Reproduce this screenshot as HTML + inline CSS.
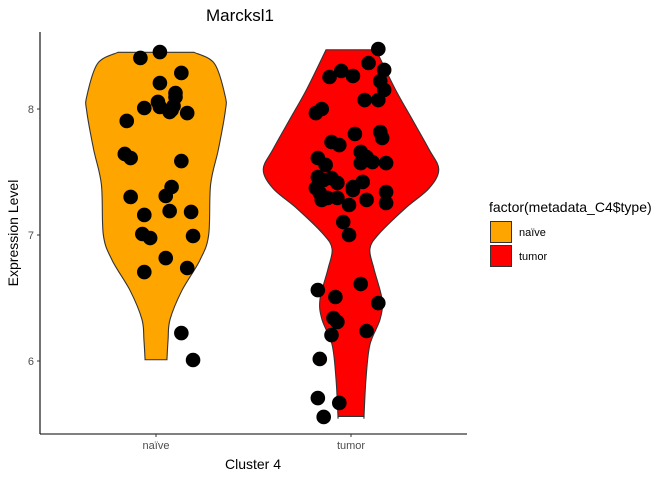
<!DOCTYPE html>
<html><head><meta charset="utf-8"><style>
body{margin:0;background:#fff}
svg{font-family:"Liberation Sans",sans-serif}
</style></head><body>
<svg id="c" width="672" height="480"></svg>
<script>
const categories=["naïve","tumor"];
const colors=["#FFA500","#FF0000"];
const yTicks=[6,7,8];
// violin outline: expression levels and half-widths (fraction of category width)
const naiveLevels=[8.45,8.36,8.10,7.98,7.68,7.40,7.00,6.80,6.56,6.33,6.17,6.01];
const naiveWidths=[0.195,0.30,0.355,0.355,0.32,0.28,0.27,0.225,0.133,0.072,0.062,0.056];
const tumorLevels=[8.47,8.16,7.92,7.68,7.52,7.37,7.21,7.01,6.89,6.73,6.49,6.33,6.13,5.86,5.57,5.56];
const tumorWidths=[0.128,0.226,0.313,0.40,0.45,0.40,0.277,0.144,0.097,0.118,0.159,0.149,0.097,0.077,0.067,0.067];
const naiveVals=[8.452,8.405,8.286,8.206,8.127,8.095,8.024,8.056,8.008,7.976,8.016,7.992,7.968,7.905,7.643,7.611,7.587,7.302,7.381,7.310,7.159,7.190,7.183,7.008,6.976,6.992,6.817,6.738,6.706,6.222,6.008];
const naiveJit=[0.02,-0.08,0.13,0.02,0.10,0.10,0.09,0.01,-0.06,0.07,0.02,0.08,0.16,-0.15,-0.16,-0.13,0.13,-0.13,0.08,0.05,-0.06,0.07,0.18,-0.07,-0.03,0.19,0.05,0.16,-0.06,0.13,0.19];
const tumorVals=[8.476,8.365,8.310,8.254,8.302,8.262,8.222,8.151,8.071,8.071,7.968,8.0,7.802,7.817,7.770,7.738,7.714,7.611,7.556,7.659,7.619,7.571,7.579,7.571,7.460,7.437,7.452,7.413,7.373,7.333,7.381,7.421,7.357,7.278,7.294,7.294,7.238,7.278,7.341,7.254,7.103,7.0,6.563,6.611,6.508,6.460,6.341,6.310,6.206,6.238,6.016,5.706,5.667,5.556];
const tumorJit=[0.14,0.09,0.17,-0.11,-0.05,0.01,0.15,0.17,0.14,0.07,-0.18,-0.15,0.02,0.15,0.16,-0.10,-0.06,-0.17,-0.13,0.05,0.08,0.05,0.11,0.18,-0.17,-0.14,-0.10,-0.07,-0.18,-0.16,0.01,0.06,0.01,-0.15,-0.12,-0.07,-0.01,0.08,0.18,0.18,-0.04,-0.01,-0.17,0.05,-0.08,0.14,-0.09,-0.07,-0.10,0.08,-0.16,-0.17,-0.06,-0.14];

const NS="http://www.w3.org/2000/svg";
const svg=document.getElementById('c');
const L=40,R=467,T=32,B=434;
const catW=195, x0=156;
const X=i=>x0+i*catW;
const Y=v=>109+(8-v)*126;
function el(t,a,p){const e=document.createElementNS(NS,t);for(const k in a)e.setAttribute(k,a[k]);(p||svg).appendChild(e);return e;}

function smooth(pts){
  let d="M"+pts[0][0]+","+pts[0][1];
  for(let i=0;i<pts.length-1;i++){
    const p0=pts[Math.max(0,i-1)],p1=pts[i],p2=pts[i+1],p3=pts[Math.min(pts.length-1,i+2)];
    const c1=[p1[0]+(p2[0]-p0[0])/6,p1[1]+(p2[1]-p0[1])/6];
    const c2=[p2[0]-(p3[0]-p1[0])/6,p2[1]-(p3[1]-p1[1])/6];
    d+=" C"+c1[0]+","+c1[1]+" "+c2[0]+","+c2[1]+" "+p2[0]+","+p2[1];
  }
  return d;
}
function violin(i,lv,wd,name){
  const cx=X(i);
  const right=lv.map((v,k)=>[cx+wd[k]*catW,Y(v)]);
  const left=lv.map((v,k)=>[cx-wd[k]*catW,Y(v)]).reverse();
  let d=smooth(right);
  d+=" L"+left[0][0]+","+left[0][1]+smooth(left).replace(/^M[^C]*/," ")+" Z";
  const p=el('path',{d:d,fill:colors[i],stroke:'#333',"stroke-width":1.1});
  
  
}
violin(0,naiveLevels,naiveWidths,'violin-naive');
violin(1,tumorLevels,tumorWidths,'violin-tumor');

function points(i,vals,jit,name){
  vals.forEach((v,k)=>{
    const c=el('circle',{cx:X(i)+jit[k]*catW,cy:Y(v),r:7.3,fill:'#000'});
    
    
  });
}
points(0,naiveVals,naiveJit,'point-naive');
points(1,tumorVals,tumorJit,'point-tumor');

// axes
const ya=el('line',{x1:L,y1:T,x2:L,y2:B,stroke:'#000',"stroke-width":1.1});


const xa=el('line',{x1:L,y1:B,x2:R,y2:B,stroke:'#000',"stroke-width":1.1});


yTicks.forEach(t=>{
  el('line',{x1:L-3,x2:L,y1:Y(t),y2:Y(t),stroke:'#333'});
  const tx=el('text',{x:L-6,y:Y(t)+4,"text-anchor":"end","font-size":11,fill:'#4d4d4d'});
  tx.textContent=t;
  
  
});
categories.forEach((c,i)=>{
  el('line',{x1:X(i),x2:X(i),y1:B,y2:B+3,stroke:'#333'});
  const tx=el('text',{x:X(i),y:B+15,"text-anchor":"middle","font-size":11,fill:'#4d4d4d'});
  tx.textContent=c;
  
  
});
</script>
<svg width="672" height="480" style="position:absolute;left:0;top:0;font-family:'Liberation Sans',sans-serif">
<text x="240" y="21" text-anchor="middle" font-size="17">Marcksl1</text>
<text transform="translate(18,233) rotate(-90)" text-anchor="middle" font-size="14">Expression Level</text>
<text x="253" y="469" text-anchor="middle" font-size="14">Cluster 4</text>
<text x="489" y="212" font-size="14">factor(metadata_C4$type)</text>
<rect x="490.5" y="221.5" width="21" height="21" fill="#FFA500" stroke="#333"/>
<rect x="490.5" y="245.5" width="21" height="21" fill="#FF0000" stroke="#333"/>
<text x="519" y="236" font-size="11">naïve</text>
<text x="519" y="260" font-size="11">tumor</text>
</svg>
</body></html>
